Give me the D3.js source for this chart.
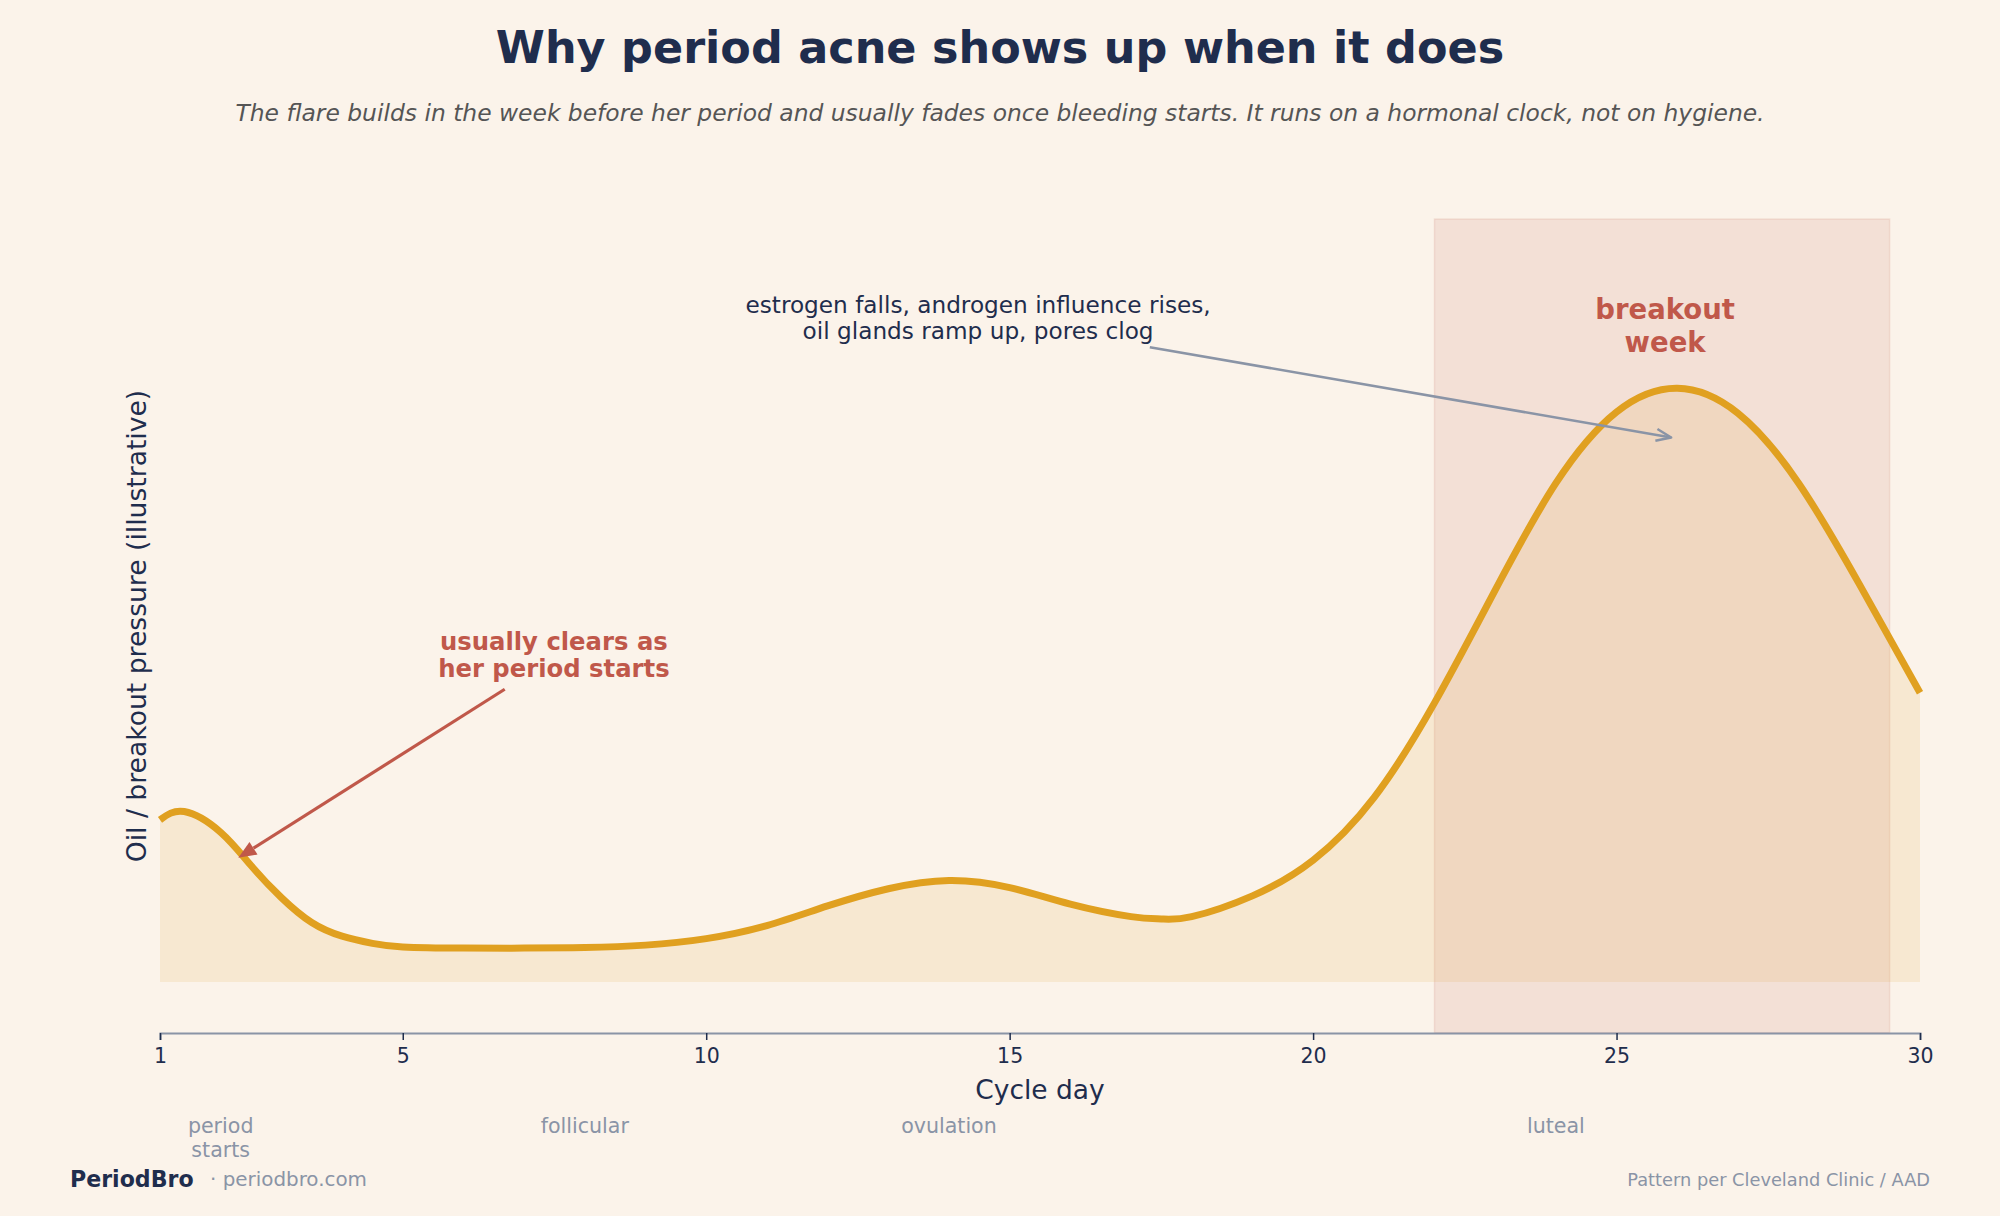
<!DOCTYPE html>
<html>
<head>
<meta charset="utf-8">
<script src="https://cdn.jsdelivr.net/npm/d3@7"></script>
<style>
  body { margin: 0; background: #fbf3ea; }
  svg { display: block; font-family: "DejaVu Sans", sans-serif; }
</style>
</head>
<body>
<script>
// cycle day vs illustrative oil / breakout pressure
var days = [1, 1.4, 2, 2.5, 3, 3.5, 4, 4.5, 5, 6, 7, 8, 9, 10, 11, 12, 13, 14, 15, 16, 17, 17.5, 18, 19, 20, 21, 22, 23, 24, 25, 26, 27, 28, 29, 30];
var pressure = [0.273, 0.287, 0.252, 0.196, 0.142, 0.100, 0.077, 0.065, 0.059, 0.057, 0.057, 0.058, 0.062, 0.073, 0.095, 0.128, 0.157, 0.171, 0.159, 0.131, 0.110, 0.106, 0.110, 0.145, 0.205, 0.310, 0.470, 0.660, 0.840, 0.960, 1.000, 0.958, 0.840, 0.670, 0.487];

var xTicks = [1, 5, 10, 15, 20, 25, 30];
var breakoutWeek = [22, 29.5];

var phaseNames = [["period", "starts"], ["follicular"], ["ovulation"], ["luteal"]];
var phaseDays = [2, 8, 14, 24];

var width = 2000,
    height = 1216;
var margin = {top: 219, right: 80, bottom: 183, left: 160};

var navy = "#1f2d4d",
    grey = "#8a94a6",
    red = "#c0584a",
    gold = "#e0a020";

var svg = d3.select("body")
    .append("svg")
    .attr("width", width)
    .attr("height", height);

svg.append("rect")
    .attr("width", width)
    .attr("height", height)
    .attr("fill", "#fbf3ea");

var x = d3.scaleLinear()
    .domain([1, 30])
    .range([margin.left, width - margin.right]);

var y = d3.scaleLinear()
    .domain([-0.086, 1.285])
    .range([height - margin.bottom, margin.top]);

var data = days.map(function(d, i) { return {day: d, v: pressure[i]}; });

//breakout week band
svg.append("rect")
    .attr("x", x(breakoutWeek[0]))
    .attr("y", y.range()[1])
    .attr("width", x(breakoutWeek[1]) - x(breakoutWeek[0]))
    .attr("height", y.range()[0] - y.range()[1])
    .attr("fill", red)
    .attr("fill-opacity", 0.12)
    .attr("stroke", red)
    .attr("stroke-opacity", 0.12)
    .attr("stroke-width", 1.5);

var area = d3.area()
    .curve(d3.curveNatural)
    .x(function(d) { return x(d.day); })
    .y0(y(0))
    .y1(function(d) { return y(d.v); });

var line = d3.line()
    .curve(d3.curveNatural)
    .x(function(d) { return x(d.day); })
    .y(function(d) { return y(d.v); });

svg.append("path")
    .datum(data)
    .attr("d", area)
    .attr("fill", gold)
    .attr("fill-opacity", 0.12);

svg.append("path")
    .datum(data)
    .attr("d", line)
    .attr("fill", "none")
    .attr("stroke", gold)
    .attr("stroke-width", 7)
    .attr("stroke-linejoin", "round");

//x axis
var xAxis = svg.append("g")
    .attr("transform", "translate(0," + y.range()[0] + ")")
    .call(d3.axisBottom(x).tickValues(xTicks).tickSize(7).tickPadding(8));
xAxis.select(".domain").attr("stroke", grey).attr("stroke-width", 2);
xAxis.selectAll(".tick line").attr("stroke", navy).attr("stroke-width", 1.5);
xAxis.selectAll(".tick text")
    .attr("fill", navy)
    .attr("font-size", 20.5)
    .attr("font-family", "DejaVu Sans");

svg.append("text")
    .attr("x", (x.range()[0] + x.range()[1]) / 2)
    .attr("y", 1089)
    .attr("text-anchor", "middle")
    .attr("dominant-baseline", "central")
    .attr("fill", navy)
    .attr("font-size", 26.5)
    .text("Cycle day");

svg.append("text")
    .attr("transform", "translate(136," + (y.range()[0] + y.range()[1]) / 2 + ") rotate(-90)")
    .attr("text-anchor", "middle")
    .attr("dominant-baseline", "central")
    .attr("fill", navy)
    .attr("font-size", 26.6)
    .text("Oil / breakout pressure (illustrative)");

//phase labels under the axis
phaseNames.forEach(function(lines, i) {
    var t = svg.append("text")
        .attr("text-anchor", "middle")
        .attr("fill", grey)
        .attr("font-size", 20.6);
    lines.forEach(function(s, j) {
        t.append("tspan")
            .attr("x", x(phaseDays[i]))
            .attr("y", 1126 + j * 24)
            .attr("dominant-baseline", "central")
            .text(s);
    });
});

//title
svg.append("text")
    .attr("x", width / 2)
    .attr("y", 63)
    .attr("text-anchor", "middle")
    .attr("fill", navy)
    .attr("font-size", 44.5)
    .attr("font-weight", "bold")
    .text("Why period acne shows up when it does");

svg.append("text")
    .attr("x", width / 2)
    .attr("y", 121)
    .attr("text-anchor", "middle")
    .attr("fill", "#555555")
    .attr("font-size", 23.4)
    .attr("font-style", "italic")
    .text("The flare builds in the week before her period and usually fades once bleeding starts. It runs on a hormonal clock, not on hygiene.");

//annotations
function multiline(lines, cx, cy, step, size, color, weight) {
    var t = svg.append("text")
        .attr("text-anchor", "middle")
        .attr("fill", color)
        .attr("font-size", size)
        .attr("font-weight", weight);
    lines.forEach(function(s, j) {
        t.append("tspan")
            .attr("x", cx)
            .attr("y", cy + j * step)
            .attr("dominant-baseline", "central")
            .text(s);
    });
}

function arrow(x1, y1, x2, y2, color, w, filled, hl, hw) {
    var ang = Math.atan2(y2 - y1, x2 - x1);
    var bx = x2 - hl * Math.cos(ang), by = y2 - hl * Math.sin(ang);
    var px = -Math.sin(ang) * hw, py = Math.cos(ang) * hw;
    svg.append("line")
        .attr("x1", x1).attr("y1", y1)
        .attr("x2", filled ? bx : x2).attr("y2", filled ? by : y2)
        .attr("stroke", color)
        .attr("stroke-width", w);
    if (filled) {
        svg.append("path")
            .attr("d", "M" + x2 + "," + y2 + "L" + (bx + px) + "," + (by + py) + "L" + (bx - px) + "," + (by - py) + "Z")
            .attr("fill", color);
    } else {
        svg.append("path")
            .attr("d", "M" + (bx + px) + "," + (by + py) + "L" + x2 + "," + y2 + "L" + (bx - px) + "," + (by - py))
            .attr("fill", "none")
            .attr("stroke", color)
            .attr("stroke-width", w)
            .attr("stroke-linejoin", "round");
    }
}

multiline(["estrogen falls, androgen influence rises,", "oil glands ramp up, pores clog"],
    x(14.48), y(1.141), 26.5, 23.2, navy, "normal");
arrow(x(17.31), y(1.069), x(25.9), y(0.917), grey, 2.5, false, 15, 6);

multiline(["breakout", "week"], x(25.8), y(1.133), 33, 27.5, red, "bold");

multiline(["usually clears as", "her period starts"], x(7.49), y(0.574), 27.5, 24.3, red, "bold");
arrow(x(6.68), y(0.493), x(2.29), y(0.209), red, 3.2, true, 18, 7.5);

//footer
svg.append("text")
    .attr("x", 70)
    .attr("y", 1179)
    .attr("dominant-baseline", "central")
    .attr("fill", navy)
    .attr("font-size", 22.1)
    .attr("font-weight", "bold")
    .text("PeriodBro");

svg.append("text")
    .attr("x", 210)
    .attr("y", 1179)
    .attr("dominant-baseline", "central")
    .attr("fill", grey)
    .attr("font-size", 19.9)
    .text("· periodbro.com");

svg.append("text")
    .attr("x", 1930)
    .attr("y", 1179)
    .attr("text-anchor", "end")
    .attr("dominant-baseline", "central")
    .attr("fill", grey)
    .attr("font-size", 17.8)
    .text("Pattern per Cleveland Clinic / AAD");
</script>
</body>
</html>
